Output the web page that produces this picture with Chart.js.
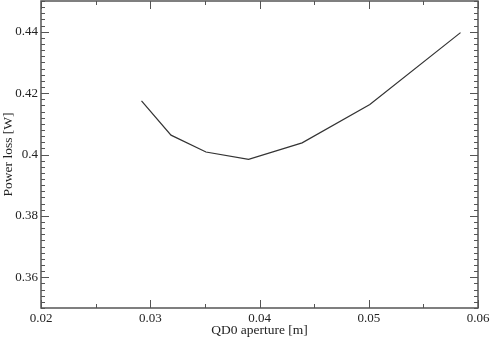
<!DOCTYPE html>
<html>
<head>
<meta charset="utf-8">
<script src="https://cdn.jsdelivr.net/npm/chart.js@4"></script>
<style>
  html, body { margin: 0; padding: 0; background: #fff; }
  #wrap { width: 491px; height: 337px; position: relative; }
</style>
</head>
<body>
<div id="wrap"><canvas id="lossChart"></canvas></div>
<script>
const apertures = [0.0292, 0.0319, 0.0351, 0.0390, 0.0439, 0.0501, 0.0584];
const powerLoss = [0.4175, 0.4063, 0.4008, 0.3984, 0.4038, 0.4163, 0.4397];
const xTicks = [0.02, 0.03, 0.04, 0.05, 0.06];
const yTicks = [0.36, 0.38, 0.40, 0.42, 0.44];

const axisColor = "#555";
const serif = "'Liberation Serif', 'Times New Roman', serif";

// inward major/minor ticks on all four sides, drawn from the scales
const innerTicks = {
  id: "innerTicks",
  afterDatasetsDraw(chart) {
    const { ctx, chartArea: a, scales: { x, y } } = chart;
    ctx.save();
    ctx.strokeStyle = axisColor;
    ctx.lineWidth = 1;
    ctx.beginPath();
    for (let i = 0; i <= 8; i++) {
      const v = 0.02 + i * 0.005;
      const px = Math.round(x.getPixelForValue(v)) + 0.5;
      const len = i % 2 === 0 ? 8 : 4;
      ctx.moveTo(px, a.bottom); ctx.lineTo(px, a.bottom - len);
      ctx.moveTo(px, a.top); ctx.lineTo(px, a.top + len);
    }
    for (let i = 0; i <= 50; i++) {
      const v = 0.35 + i * 0.002;
      const py = Math.round(y.getPixelForValue(v)) + 0.5;
      const len = (i % 10 === 5) ? 8 : 4;
      ctx.moveTo(a.left, py); ctx.lineTo(a.left + len, py);
      ctx.moveTo(a.right, py); ctx.lineTo(a.right - len, py);
    }
    ctx.stroke();
    ctx.lineWidth = 1.5;
    ctx.strokeRect(a.left, a.top, a.right - a.left, a.bottom - a.top);
    ctx.restore();
  }
};

new Chart(document.getElementById("lossChart").getContext("2d"), {
  type: "scatter",
  data: {
    datasets: [{
      data: apertures.map((v, i) => ({ x: v, y: powerLoss[i] })),
      showLine: true,
      borderColor: "#333",
      borderWidth: 1.2,
      pointRadius: 0,
      tension: 0,
    }],
  },
  options: {
    responsive: true,
    maintainAspectRatio: false,
    animation: false,
    layout: { padding: { top: 1, right: 13, left: 0, bottom: 0 } },
    plugins: { legend: { display: false }, tooltip: { enabled: false } },
    scales: {
      x: {
        type: "linear",
        min: 0.02,
        max: 0.06,
        afterBuildTicks: s => { s.ticks = xTicks.map(v => ({ value: v })); },
        afterFit: s => { s.height = 29; s.paddingLeft = 0; s.paddingRight = 0; },
        ticks: {
          color: "#222",
          font: { family: serif, size: 13 },
          padding: 3,
          maxRotation: 0,
          callback: v => String(+v.toFixed(2)),
        },
        grid: { display: false, drawTicks: false },
        border: { display: false },
        title: {
          display: true,
          text: "QD0 aperture [m]",
          color: "#222",
          font: { family: serif, size: 13.5 },
          padding: { top: 0, bottom: -2 },
        },
      },
      y: {
        type: "linear",
        min: 0.35,
        max: 0.45,
        afterBuildTicks: s => { s.ticks = yTicks.map(v => ({ value: v })); },
        afterFit: s => { s.width = 41; s.paddingTop = 0; s.paddingBottom = 0; },
        ticks: {
          color: "#222",
          font: { family: serif, size: 13 },
          padding: 3,
          callback: v => String(+v.toFixed(2)),
        },
        grid: { display: false, drawTicks: false },
        border: { display: false },
        title: {
          display: true,
          text: "Power loss [W]",
          color: "#222",
          font: { family: serif, size: 13.5 },
          padding: { top: 0, bottom: 0 },
        },
      },
    },
  },
  plugins: [innerTicks],
});
</script>
</body>
</html>
